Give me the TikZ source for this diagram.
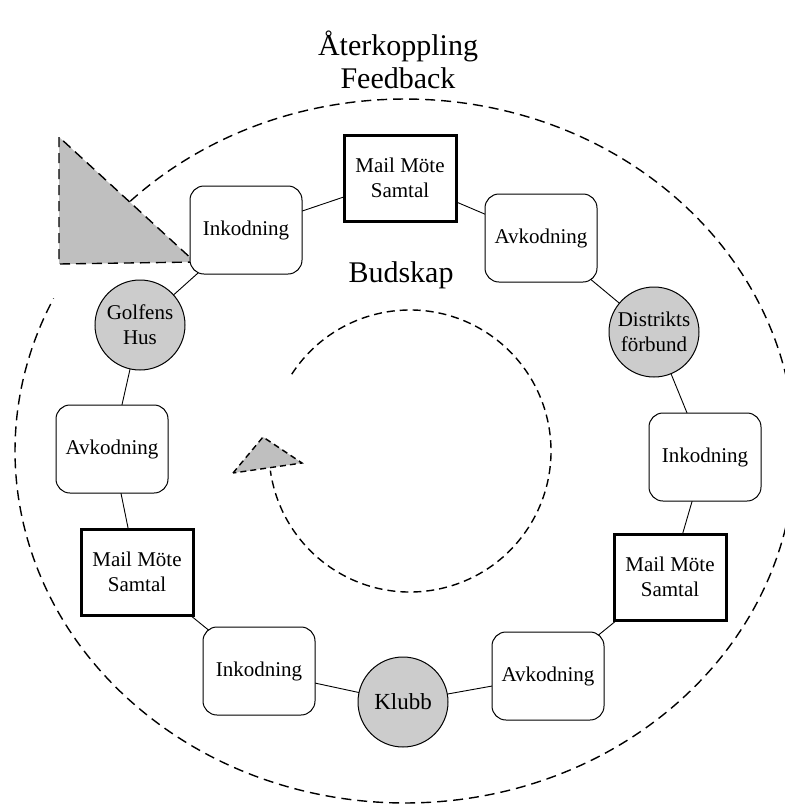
\documentclass[tikz,border=0pt]{standalone}
\usepackage{fontspec}
\setmainfont{Liberation Serif}
\usetikzlibrary{backgrounds}
\tikzset{
  kod/.style={draw, line width=1pt, rounded corners=14pt, fill=white, minimum width=112pt, minimum height=88pt, inner sep=0pt, font=\fontsize{21}{25}\selectfont},
  boks/.style={draw, line width=3pt, fill=white, minimum width=112pt, minimum height=86pt, inner sep=0pt, align=center, font=\fontsize{21}{25}\selectfont},
  org/.style={draw, line width=1pt, circle, fill=black!20, minimum size=90pt, inner sep=0pt, align=center, font=\fontsize{21}{25}\selectfont},
  streckad/.style={dash pattern=on 10pt off 6pt, line width=1.4pt},
}

\begin{document}
\begin{tikzpicture}[x=1pt, y=-1pt]
\useasboundingbox (0,0) rectangle (785,807);

% yttre aterkoppling
\draw[streckad] (405,451) ++(-134.8:390 and 352) arc[start angle=-134.8, end angle=205.7, x radius=390, y radius=352];
\filldraw[streckad, fill=black!25] (59,137) -- (59,264) -- (195,262) -- cycle;

% inre budskap
\draw[streckad, dash pattern=on 8pt off 5pt] (410,451) ++(-147:141) arc[start angle=-147, end angle=172, radius=141];
\filldraw[streckad, dash pattern=on 6pt off 4pt, fill=black!25] (233,473) -- (263,437) -- (302,463) -- cycle;

\node[align=center, font=\fontsize{30}{33}\selectfont] (titel) at (398,60) {Återkoppling\\Feedback};
\node[font=\fontsize{30}{36}\selectfont] (budskap) at (401,275) {Budskap};

% ringen
\node[boks] (mmsT) at (400,178) {Mail Möte\\Samtal};
\node[kod] (avkT) at (541,238) {Avkodning};
\node[org] (distr) at (654,332) {Distrikts\\förbund};
\node[kod] (inkR) at (705,457) {Inkodning};
\node[boks] (mmsR) at (670,577) {Mail Möte\\Samtal};
\node[kod] (avkR) at (548,676) {Avkodning};
\node[org, font=\fontsize{23}{27}\selectfont] (klubb) at (403,702) {Klubb};
\node[kod] (inkL) at (259,671) {Inkodning};
\node[boks] (mmsL) at (137,572) {Mail Möte\\Samtal};
\node[kod] (avkL) at (112,449) {Avkodning};
\node[org] (golf) at (140,325) {Golfens\\Hus};
\node[kod] (inkT) at (246,230) {Inkodning};

\begin{scope}[on background layer]
\foreach \a/\b in {mmsT/avkT, avkT/distr, distr/inkR, inkR/mmsR, mmsR/avkR, avkR/klubb, klubb/inkL, inkL/mmsL, mmsL/avkL, avkL/golf, golf/inkT, inkT/mmsT}
  \draw[line width=0.9pt] (\a.center) -- (\b.center);
\end{scope}
\end{tikzpicture}
\end{document}
